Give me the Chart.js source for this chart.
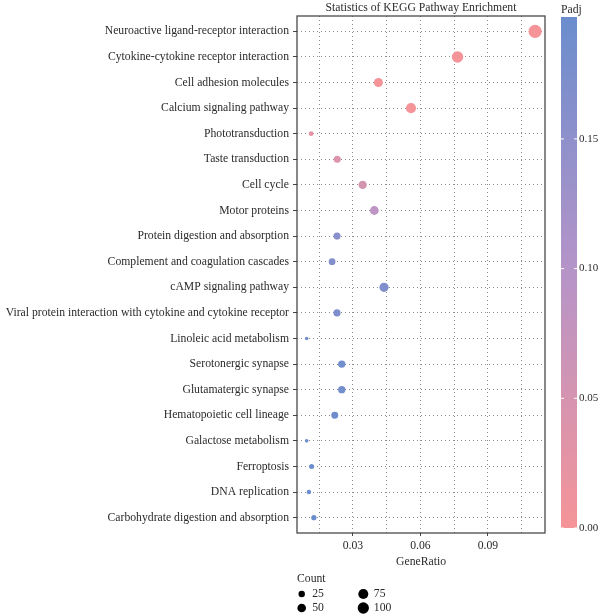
<!DOCTYPE html>
<html><head><meta charset="utf-8">
<script src="https://cdn.jsdelivr.net/npm/chart.js@4/dist/chart.umd.min.js"></script>
<style>html,body{margin:0;padding:0;background:#fff;overflow:hidden}</style>
</head><body>
<canvas id="c" width="600" height="616" style="width:600px;height:616px;display:block"></canvas>
<script>
const pathways = [
  'Neuroactive ligand-receptor interaction',
  'Cytokine-cytokine receptor interaction',
  'Cell adhesion molecules',
  'Calcium signaling pathway',
  'Phototransduction',
  'Taste transduction',
  'Cell cycle',
  'Motor proteins',
  'Protein digestion and absorption',
  'Complement and coagulation cascades',
  'cAMP signaling pathway',
  'Viral protein interaction with cytokine and cytokine receptor',
  'Linoleic acid metabolism',
  'Serotonergic synapse',
  'Glutamatergic synapse',
  'Hematopoietic cell lineage',
  'Galactose metabolism',
  'Ferroptosis',
  'DNA replication',
  'Carbohydrate digestion and absorption'
];
const geneRatio = [0.111, 0.0765, 0.0413, 0.0558, 0.0114, 0.0230, 0.0343, 0.0395, 0.0229, 0.0207,
                   0.0438, 0.0229, 0.0094, 0.0250, 0.0250, 0.0219, 0.0094, 0.0116, 0.0104, 0.0126];
const counts = [150, 104, 56, 75, 15, 31, 46, 53, 31, 28, 59, 31, 13, 34, 34, 30, 13, 16, 14, 17];
const padj = [0.000, 0.000, 0.001, 0.000, 0.024, 0.040, 0.053, 0.088, 0.158, 0.165,
              0.168, 0.172, 0.186, 0.188, 0.188, 0.190, 0.195, 0.197, 0.197, 0.197];
const xTickValues = [0.015, 0.03, 0.045, 0.06, 0.075, 0.09, 0.105];
const xTickLabels = ['', '0.03', '', '0.06', '', '0.09', ''];
const padjTicks = [0.00, 0.05, 0.10, 0.15];
const padjTickLabels = ['0.00', '0.05', '0.10', '0.15'];
const countLegend = [25, 50, 75, 100];

const FONT = '"Liberation Serif", "Times New Roman", serif';
const FS = 11.7;
const TXT = '#2b2b2b';

const cMin = Math.min(...counts), cMax = Math.max(...counts);
function radiusOf(c) {
  return 1.8 + 4.8 * Math.sqrt(Math.max(0, c - cMin) / (cMax - cMin));
}
const pMin = 0, pMax = Math.max(...padj);
const stops = [[0, [245, 148, 152]], [0.5, [182, 148, 200]], [1, [106, 141, 205]]];
function colorOf(p) {
  let t = (p - pMin) / (pMax - pMin);
  t = Math.max(0, Math.min(1, t));
  for (let i = 0; i < stops.length - 1; i++) {
    const [t0, c0] = stops[i], [t1, c1] = stops[i + 1];
    if (t <= t1) {
      const u = (t - t0) / (t1 - t0);
      const c = c0.map((v, k) => Math.round(v + (c1[k] - v) * u));
      return `rgb(${c[0]},${c[1]},${c[2]})`;
    }
  }
  const c = stops[stops.length - 1][1];
  return `rgb(${c[0]},${c[1]},${c[2]})`;
}

const points = pathways.map((p, i) => ({x: geneRatio[i], y: i, r: radiusOf(counts[i])}));

const extras = {
  id: 'extras',
  beforeDatasetsDraw(chart) {
    const {ctx, chartArea: a} = chart;
    ctx.save();
    ctx.strokeStyle = '#4a4a4a';
    ctx.lineWidth = 1.3;
    ctx.strokeRect(a.left, a.top, a.right - a.left, a.bottom - a.top);
    ctx.restore();
  },
  afterDraw(chart) {
    const {ctx, chartArea: a} = chart;
    ctx.save();
    ctx.font = `${FS}px ${FONT}`;
    ctx.fillStyle = TXT;
    // title
    ctx.textAlign = 'center';
    ctx.textBaseline = 'middle';
    ctx.fillText('Statistics of KEGG Pathway Enrichment', (a.left + a.right) / 2, 7.5);
    // colorbar
    const bx = 561, bw = 16, bTop = 17, bBot = 528;
    const g = ctx.createLinearGradient(0, bBot, 0, bTop);
    for (let k = 0; k <= 40; k++) {
      const p = pMin + (pMax - pMin) * k / 40;
      g.addColorStop(k / 40, colorOf(p));
    }
    ctx.fillStyle = g;
    ctx.fillRect(bx, bTop, bw, bBot - bTop);
    ctx.fillStyle = TXT;
    ctx.textAlign = 'left';
    ctx.fillText('Padj', bx, 10);
    ctx.font = `11px ${FONT}`;
    padjTicks.forEach((v, i) => {
      const y = bBot - (v - pMin) / (pMax - pMin) * (bBot - bTop);
      ctx.strokeStyle = '#ffffff';
      ctx.lineWidth = 1;
      ctx.beginPath();
      ctx.moveTo(bx, y); ctx.lineTo(bx + 3, y);
      ctx.moveTo(bx + bw - 3, y); ctx.lineTo(bx + bw, y);
      ctx.stroke();
      ctx.fillStyle = TXT;
      ctx.fillText(padjTickLabels[i], 579, y);
    });
    ctx.font = `${FS}px ${FONT}`;
    // size legend
    ctx.fillStyle = TXT;
    ctx.textAlign = 'left';
    ctx.fillText('Count', 297, 579);
    const pos = [[301.7, 594], [301.7, 608], [363.3, 594], [363.3, 608]];
    countLegend.forEach((c, i) => {
      const [x, y] = pos[i];
      ctx.fillStyle = '#000';
      ctx.beginPath();
      ctx.arc(x, y, radiusOf(c), 0, Math.PI * 2);
      ctx.fill();
      ctx.fillStyle = TXT;
      ctx.fillText(String(c), x + 10.5, y);
    });
    ctx.restore();
  }
};

new Chart(document.getElementById('c'), {
  type: 'bubble',
  data: {
    datasets: [{
      data: points,
      backgroundColor: padj.map(colorOf),
      borderWidth: 0,
      hoverBorderWidth: 0
    }]
  },
  options: {
    responsive: false,
    animation: false,
    devicePixelRatio: 1,
    layout: {padding: {left: 0, right: 55, top: 16, bottom: 0}},
    plugins: {legend: {display: false}, tooltip: {enabled: false}, title: {display: false}},
    scales: {
      x: {
        type: 'linear',
        min: 0.0051,
        max: 0.1154,
        afterBuildTicks: s => { s.ticks = xTickValues.map(v => ({value: v})); },
        afterFit: s => { s.height = 83; },
        ticks: {
          autoSkip: false,
          maxRotation: 0,
          padding: 3,
          color: TXT,
          font: {family: FONT, size: FS},
          callback: (v, i) => xTickLabels[i]
        },
        grid: {
          color: '#8a8a8a',
          lineWidth: 1,
          borderDash: [1, 3],
          tickLength: 3,
          tickBorderDash: [],
          tickColor: c => (xTickLabels[c.index] ? '#444' : 'rgba(0,0,0,0)')
        },
        border: {display: false, dash: [1, 3]},
        title: {
          display: true,
          text: 'GeneRatio',
          color: TXT,
          font: {family: FONT, size: FS},
          padding: {top: 0, bottom: 47}
        }
      },
      y: {
        type: 'linear',
        reverse: true,
        min: -0.6,
        max: pathways.length - 1 + 0.6,
        afterBuildTicks: s => { s.ticks = pathways.map((_, i) => ({value: i})); },
        afterFit: s => { s.width = 297; },
        ticks: {
          autoSkip: false,
          padding: 4,
          color: TXT,
          font: {family: FONT, size: FS},
          callback: v => pathways[v]
        },
        grid: {
          color: '#8a8a8a',
          lineWidth: 1,
          borderDash: [1, 3],
          tickLength: 4,
          tickBorderDash: [],
          tickColor: '#444'
        },
        border: {display: false, dash: [1, 3]}
      }
    }
  },
  plugins: [extras]
});
</script>
</body></html>
